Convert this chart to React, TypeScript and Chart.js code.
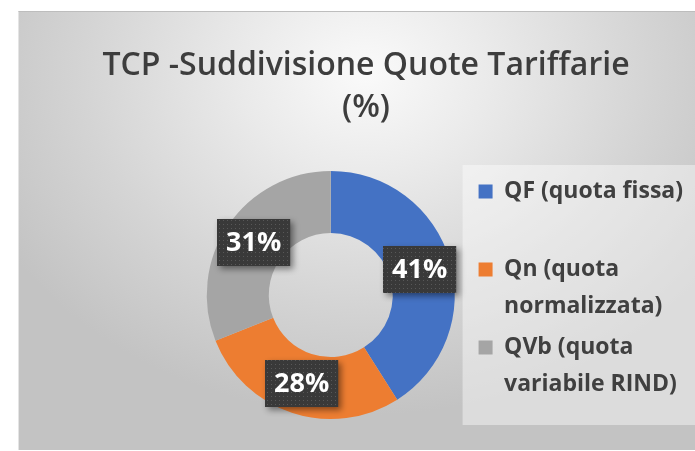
import React, { useEffect, useRef } from 'react';
import { Chart, registerables } from 'chart.js';

Chart.register(...registerables);

// ---- data ----
const categories: string[][] = [
  ['QF (quota fissa)', ''],
  ['Qn (quota', 'normalizzata)'],
  ['QVb (quota', 'variabile RIND)'],
];
const values: number[] = [41, 28, 31];
const sliceColors: string[] = ['#4472C4', '#ED7D31', '#A5A5A5'];
const titleLines: string[] = ['TCP -Suddivisione Quote Tariffarie', '(%)'];

const CW = 696;
const CH = 439;

function makePattern(ctx: CanvasRenderingContext2D): CanvasPattern | string {
  const c = document.createElement('canvas');
  c.width = 4;
  c.height = 4;
  const g = c.getContext('2d');
  if (!g) return '#3a3a3a';
  g.fillStyle = '#393939';
  g.fillRect(0, 0, 4, 4);
  g.fillStyle = '#585858';
  g.fillRect(1, 1, 1, 1);
  return ctx.createPattern(c, 'repeat') || '#3a3a3a';
}

const backdropPlugin = {
  id: 'backdrop',
  beforeDraw(chart: any) {
    const { ctx, legend } = chart;
    ctx.save();
    // legend background panel
    if (legend) {
      ctx.fillStyle = 'rgba(255,255,255,0.42)';
      ctx.fillRect(legend.left - 12, legend.top - 6, chart.width - legend.left + 12, legend.height + 12);
    }
    // title
    ctx.fillStyle = '#3d3d3d';
    ctx.font = '600 32px "Open Sans"';
    ctx.textAlign = 'center';
    ctx.textBaseline = 'middle';
    titleLines.forEach((t, i) => ctx.fillText(t, 348, 55 + i * 42));
    ctx.restore();
  },
};

const labelPlugin = {
  id: 'boxLabels',
  afterDatasetsDraw(chart: any) {
    const { ctx } = chart;
    const meta = chart.getDatasetMeta(0);
    const data = chart.data.datasets[0].data as number[];
    const pattern = makePattern(ctx);
    ctx.save();
    ctx.font = 'bold 27px "Open Sans"';
    meta.data.forEach((arc: any, i: number) => {
      const p = arc.tooltipPosition(false);
      const text = `${data[i]}%`;
      const tw = ctx.measureText(text).width;
      const w = tw + 18;
      const h = 47;
      const x = Math.round(p.x - w / 2);
      const y = Math.round(p.y - h / 2);
      ctx.save();
      ctx.shadowColor = 'rgba(0,0,0,0.45)';
      ctx.shadowBlur = 6;
      ctx.shadowOffsetX = 3;
      ctx.shadowOffsetY = 3;
      ctx.fillStyle = pattern;
      ctx.fillRect(x, y, w, h);
      ctx.restore();
      ctx.fillStyle = '#ffffff';
      ctx.textAlign = 'center';
      ctx.textBaseline = 'middle';
      ctx.fillText(text, x + w / 2, y + h / 2 + 1);
    });
    ctx.restore();
  },
};

export default function App() {
  const ref = useRef<HTMLCanvasElement | null>(null);

  useEffect(() => {
    if (!ref.current) return;
    const chart = new Chart(ref.current, {
      type: 'doughnut',
      data: {
        labels: categories as any,
        datasets: [
          {
            data: values,
            backgroundColor: sliceColors,
            borderWidth: 0,
          },
        ],
      },
      options: {
        responsive: false,
        animation: false,
        devicePixelRatio: 1,
        cutout: '50%',
        layout: { padding: { top: 160, bottom: 31, left: 169, right: 21 } },
        plugins: {
          title: { display: false },
          tooltip: { enabled: false },
          legend: {
            display: true,
            position: 'right',
            align: 'center',
            labels: {
              boxWidth: 14,
              boxHeight: 14,
              padding: 4,
              color: '#404040',
              font: { family: '"Open Sans"', size: 23, weight: 'bold', lineHeight: '37px' } as any,
            },
          },
        },
      },
      plugins: [backdropPlugin, labelPlugin],
    });
    return () => chart.destroy();
  }, []);

  return (
    <div
      style={{
        position: 'absolute',
        left: 18,
        top: 11,
        width: 677,
        height: CH,
        overflow: 'hidden',
        borderTop: '1px solid #bdbdbd',
        borderLeft: '1px solid #e4e4e4',
        boxSizing: 'border-box',
      }}
    >
      <div
        style={{
          position: 'absolute',
          left: -1,
          top: -1,
          width: CW,
          height: CH,
          background:
            'radial-gradient(ellipse 60% 78% at 50% 14%, #fafafa 0%, #eaeaea 30%, #d4d4d4 68%, #c3c3c3 100%)',
        }}
      >
        <canvas ref={ref} width={CW} height={CH} style={{ display: 'block', width: CW, height: CH }} />
      </div>
    </div>
  );
}
